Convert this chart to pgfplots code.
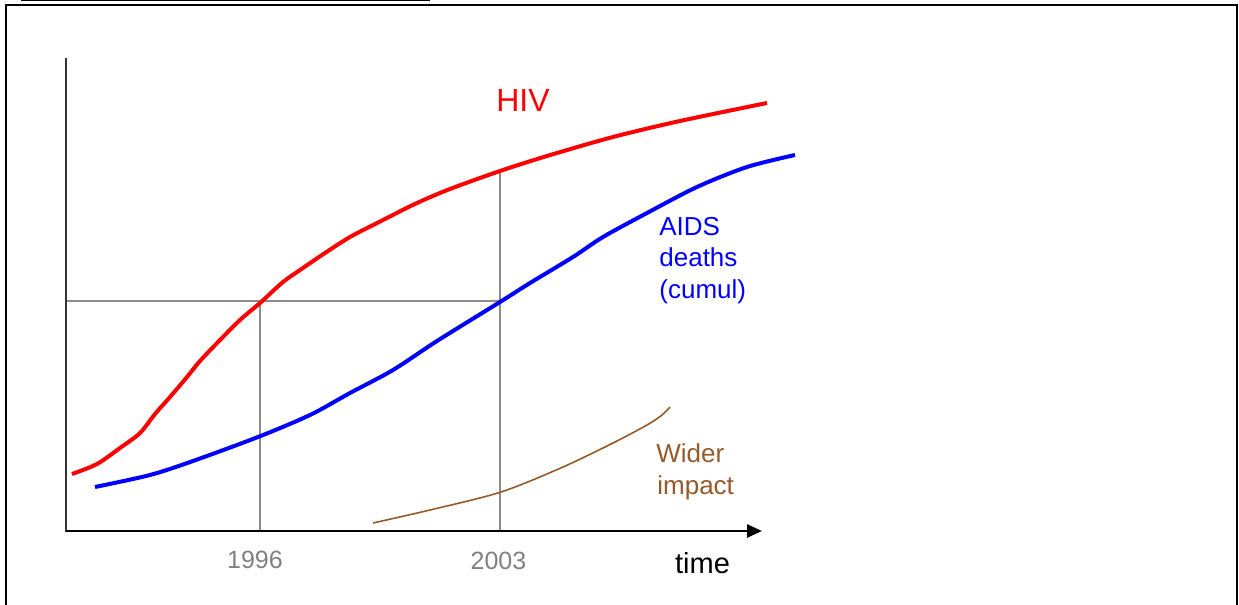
\documentclass[border=0pt]{standalone}
\usepackage{pgfplots}
\pgfplotsset{compat=1.18}
\usepackage{fontspec}
\setmainfont{Liberation Sans}
\usetikzlibrary{arrows.meta}
\definecolor{axgray}{RGB}{140,140,140}
\definecolor{txtgray}{RGB}{128,128,128}
\definecolor{brownish}{RGB}{150,90,40}
\begin{document}
\begin{tikzpicture}
\begin{axis}[
  scale only axis, width=619.5pt, height=302.5pt,
  xmin=0, xmax=1239, ymin=0, ymax=605, y dir=reverse,
  hide axis, clip=true,
]
% page corners (bounding box)
\addplot[draw=none] coordinates {(0,0) (1239,605)};
% frame and cut-off title underline
\addplot[black, line width=1pt] coordinates {(6,606) (6,5) (1236.5,5) (1236.5,606)};
\addplot[black, line width=0.8pt] coordinates {(21,0.6) (430,0.6)};
% reference lines
\addplot[axgray, line width=1pt] coordinates {(66,301) (500,301)};
\addplot[axgray, line width=1pt] coordinates {(259.5,301) (259.5,531)};
\addplot[axgray, line width=1pt] coordinates {(500,171) (500,531)};
% axes
\addplot[black!80, line width=1.3pt] coordinates {(66,58) (66,532)};
\addplot[black, line width=1.3pt, -{Triangle[length=7.5pt,width=6.5pt]}] coordinates {(66,531) (762,531)};
% HIV
\addplot[red, line width=2pt, smooth] coordinates {
 (72,474) (97,464) (120,448) (140,433) (155,414) (170,397) (187,377) (200,361)
 (220,340) (240,320) (260,303) (283,282) (300,270) (322,255) (350,237) (383,220)
 (417,203) (450,189) (500,171) (547,156) (613,137) (680,121) (767,103)};
% AIDS deaths
\addplot[blue, line width=2pt, smooth] coordinates {
 (95,487) (150,475) (193,461) (258,437) (310,415) (350,393) (393,370) (437,341)
 (500,302) (530,283) (573,257) (603,237) (647,213) (697,187) (747,167) (795,155)};
% Wider impact
\addplot[brownish, line width=0.8pt, smooth] coordinates {
 (373,523) (430,510) (501,492) (563,467) (613,443) (647,425) (662,415) (670,407)};
% labels
\node[red, anchor=base, inner sep=0pt] at (axis cs:523,112) {\fontsize{16}{19}\selectfont HIV};
\node[blue, anchor=base west, inner sep=0pt] at (axis cs:659,235) {\fontsize{13}{16}\selectfont AIDS};
\node[blue, anchor=base west, inner sep=0pt] at (axis cs:659,266.5) {\fontsize{13}{16}\selectfont deaths};
\node[blue, anchor=base west, inner sep=0pt] at (axis cs:659,298) {\fontsize{13}{16}\selectfont (cumul)};
\node[brownish, anchor=base west, inner sep=0pt] at (axis cs:656,462) {\fontsize{13}{16}\selectfont Wider};
\node[brownish, anchor=base west, inner sep=0pt] at (axis cs:657,494) {\fontsize{13}{16}\selectfont impact};
\node[txtgray, anchor=base, inner sep=0pt] at (axis cs:255,568) {\fontsize{12.5}{15}\selectfont 1996};
\node[txtgray, anchor=base, inner sep=0pt] at (axis cs:498.5,569) {\fontsize{12.5}{15}\selectfont 2003};
\node[black, anchor=base, inner sep=0pt] at (axis cs:702.5,573) {\fontsize{14.5}{17}\selectfont time};
\end{axis}
\end{tikzpicture}
\end{document}
